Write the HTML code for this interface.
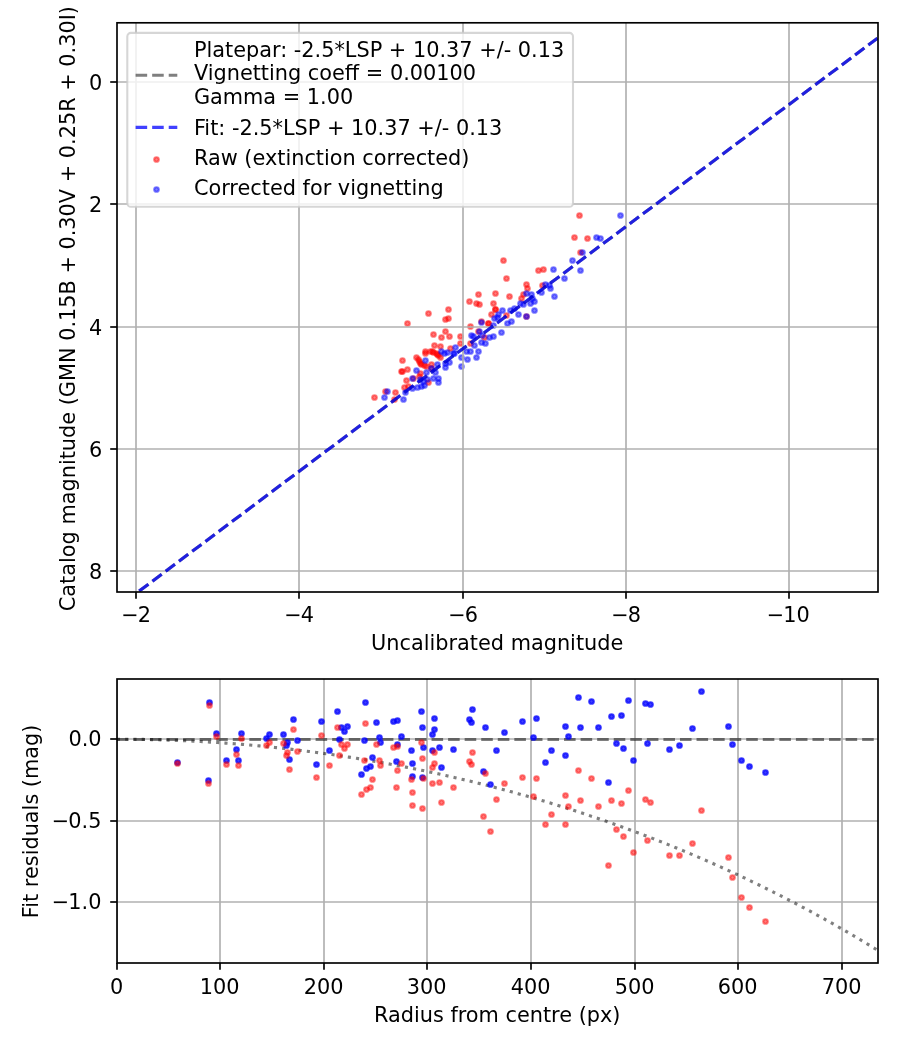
<!DOCTYPE html>
<html lang="en"><head><meta charset="utf-8"><title>Photometry fit</title>
<style>html,body{margin:0;padding:0;background:#fff}body{width:900px;height:1050px;overflow:hidden}</style></head>
<body>
<svg width="900" height="1050" viewBox="0 0 900 1050" style="display:block;font-family:'DejaVu Sans','Liberation Sans',sans-serif;font-size:20.8333px">
<rect width="900" height="1050" fill="#fff"/>
<defs><clipPath id="c1"><rect x="117" y="22.8" width="761" height="569.2"/></clipPath><clipPath id="c2"><rect x="117" y="679" width="761" height="284"/></clipPath></defs>
<g clip-path="url(#c1)">
<g fill="#f00" stroke="#f00" fill-opacity=".5" stroke-opacity=".5" stroke-width="2.1">
<circle cx="374.5" cy="397.5" r="2.3"/>
<circle cx="385.5" cy="391.5" r="2.3"/>
<circle cx="395.5" cy="392.5" r="2.3"/>
<circle cx="394.5" cy="399.5" r="2.3"/>
<circle cx="404.5" cy="387.5" r="2.3"/>
<circle cx="408.5" cy="386.5" r="2.3"/>
<circle cx="402.5" cy="360.5" r="2.3"/>
<circle cx="401.5" cy="371.5" r="2.3"/>
<circle cx="407.5" cy="369.5" r="2.3"/>
<circle cx="406.5" cy="380.5" r="2.3"/>
<circle cx="416.5" cy="357.5" r="2.3"/>
<circle cx="419.5" cy="361.5" r="2.3"/>
<circle cx="421.5" cy="364.5" r="2.3"/>
<circle cx="424.5" cy="365.5" r="2.3"/>
<circle cx="425.5" cy="351.5" r="2.3"/>
<circle cx="425.5" cy="353.5" r="2.3"/>
<circle cx="430.5" cy="351.5" r="2.3"/>
<circle cx="433.5" cy="352.5" r="2.3"/>
<circle cx="436.5" cy="353.5" r="2.3"/>
<circle cx="438.5" cy="355.5" r="2.3"/>
<circle cx="440.5" cy="357.5" r="2.3"/>
<circle cx="434.5" cy="345.5" r="2.3"/>
<circle cx="440.5" cy="346.5" r="2.3"/>
<circle cx="450.5" cy="348.5" r="2.3"/>
<circle cx="431.5" cy="364.5" r="2.3"/>
<circle cx="420.5" cy="373.5" r="2.3"/>
<circle cx="419.5" cy="376.5" r="2.3"/>
<circle cx="428.5" cy="382.5" r="2.3"/>
<circle cx="413.5" cy="378.5" r="2.3"/>
<circle cx="431.5" cy="368.5" r="2.3"/>
<circle cx="426.5" cy="366.5" r="2.3"/>
<circle cx="407.5" cy="323.5" r="2.3"/>
<circle cx="428.5" cy="313.5" r="2.3"/>
<circle cx="433.5" cy="334.5" r="2.3"/>
<circle cx="448.5" cy="309.5" r="2.3"/>
<circle cx="445.5" cy="319.5" r="2.3"/>
<circle cx="448.5" cy="318.5" r="2.3"/>
<circle cx="445.5" cy="331.5" r="2.3"/>
<circle cx="441.5" cy="337.5" r="2.3"/>
<circle cx="449.5" cy="336.5" r="2.3"/>
<circle cx="460.5" cy="336.5" r="2.3"/>
<circle cx="460.5" cy="343.5" r="2.3"/>
<circle cx="469.5" cy="301.5" r="2.3"/>
<circle cx="478.5" cy="294.5" r="2.3"/>
<circle cx="476.5" cy="303.5" r="2.3"/>
<circle cx="479.5" cy="304.5" r="2.3"/>
<circle cx="470.5" cy="326.5" r="2.3"/>
<circle cx="481.5" cy="321.5" r="2.3"/>
<circle cx="488.5" cy="323.5" r="2.3"/>
<circle cx="491.5" cy="314.5" r="2.3"/>
<circle cx="495.5" cy="309.5" r="2.3"/>
<circle cx="493.5" cy="303.5" r="2.3"/>
<circle cx="495.5" cy="293.5" r="2.3"/>
<circle cx="506.5" cy="278.5" r="2.3"/>
<circle cx="509.5" cy="296.5" r="2.3"/>
<circle cx="506.5" cy="315.5" r="2.3"/>
<circle cx="526.5" cy="284.5" r="2.3"/>
<circle cx="527.5" cy="288.5" r="2.3"/>
<circle cx="523.5" cy="294.5" r="2.3"/>
<circle cx="521.5" cy="298.5" r="2.3"/>
<circle cx="526.5" cy="316.5" r="2.3"/>
<circle cx="470.5" cy="343.5" r="2.3"/>
<circle cx="484.5" cy="337.5" r="2.3"/>
<circle cx="478.5" cy="331.5" r="2.3"/>
<circle cx="538.5" cy="270.5" r="2.3"/>
<circle cx="543.5" cy="269.5" r="2.3"/>
<circle cx="542.5" cy="285.5" r="2.3"/>
<circle cx="580.5" cy="252.5" r="2.3"/>
<circle cx="579.5" cy="215.5" r="2.3"/>
<circle cx="574.5" cy="237.5" r="2.3"/>
<circle cx="587.5" cy="238.5" r="2.3"/>
<circle cx="503.5" cy="260.5" r="2.3"/>
<circle cx="402.5" cy="371.5" r="2.3"/>
<circle cx="418.5" cy="359.5" r="2.3"/>
<circle cx="420.5" cy="363.5" r="2.3"/>
<circle cx="432.5" cy="351.5" r="2.3"/>
<circle cx="437.5" cy="354.5" r="2.3"/>
<circle cx="495.5" cy="309.5" r="2.3"/>
<circle cx="488.5" cy="323.5" r="2.3"/>
</g>
<g fill="#00f" stroke="#00f" fill-opacity=".5" stroke-opacity=".5" stroke-width="2.1">
<circle cx="384.5" cy="397.5" r="2.3"/>
<circle cx="387.5" cy="391.5" r="2.3"/>
<circle cx="403.5" cy="399.5" r="2.3"/>
<circle cx="405.5" cy="392.5" r="2.3"/>
<circle cx="417.5" cy="387.5" r="2.3"/>
<circle cx="421.5" cy="386.5" r="2.3"/>
<circle cx="424.5" cy="385.5" r="2.3"/>
<circle cx="412.5" cy="388.5" r="2.3"/>
<circle cx="425.5" cy="360.5" r="2.3"/>
<circle cx="416.5" cy="370.5" r="2.3"/>
<circle cx="412.5" cy="378.5" r="2.3"/>
<circle cx="426.5" cy="372.5" r="2.3"/>
<circle cx="431.5" cy="368.5" r="2.3"/>
<circle cx="437.5" cy="364.5" r="2.3"/>
<circle cx="441.5" cy="351.5" r="2.3"/>
<circle cx="444.5" cy="353.5" r="2.3"/>
<circle cx="447.5" cy="352.5" r="2.3"/>
<circle cx="445.5" cy="363.5" r="2.3"/>
<circle cx="449.5" cy="362.5" r="2.3"/>
<circle cx="445.5" cy="367.5" r="2.3"/>
<circle cx="435.5" cy="372.5" r="2.3"/>
<circle cx="433.5" cy="378.5" r="2.3"/>
<circle cx="438.5" cy="378.5" r="2.3"/>
<circle cx="438.5" cy="382.5" r="2.3"/>
<circle cx="423.5" cy="381.5" r="2.3"/>
<circle cx="420.5" cy="379.5" r="2.3"/>
<circle cx="454.5" cy="353.5" r="2.3"/>
<circle cx="427.5" cy="379.5" r="2.3"/>
<circle cx="455.5" cy="347.5" r="2.3"/>
<circle cx="471.5" cy="335.5" r="2.3"/>
<circle cx="474.5" cy="345.5" r="2.3"/>
<circle cx="481.5" cy="342.5" r="2.3"/>
<circle cx="485.5" cy="343.5" r="2.3"/>
<circle cx="479.5" cy="331.5" r="2.3"/>
<circle cx="482.5" cy="335.5" r="2.3"/>
<circle cx="481.5" cy="322.5" r="2.3"/>
<circle cx="489.5" cy="337.5" r="2.3"/>
<circle cx="493.5" cy="336.5" r="2.3"/>
<circle cx="501.5" cy="332.5" r="2.3"/>
<circle cx="493.5" cy="325.5" r="2.3"/>
<circle cx="494.5" cy="318.5" r="2.3"/>
<circle cx="498.5" cy="314.5" r="2.3"/>
<circle cx="497.5" cy="317.5" r="2.3"/>
<circle cx="502.5" cy="310.5" r="2.3"/>
<circle cx="507.5" cy="323.5" r="2.3"/>
<circle cx="511.5" cy="321.5" r="2.3"/>
<circle cx="510.5" cy="310.5" r="2.3"/>
<circle cx="514.5" cy="308.5" r="2.3"/>
<circle cx="518.5" cy="314.5" r="2.3"/>
<circle cx="526.5" cy="316.5" r="2.3"/>
<circle cx="534.5" cy="310.5" r="2.3"/>
<circle cx="520.5" cy="303.5" r="2.3"/>
<circle cx="523.5" cy="304.5" r="2.3"/>
<circle cx="526.5" cy="293.5" r="2.3"/>
<circle cx="531.5" cy="294.5" r="2.3"/>
<circle cx="530.5" cy="303.5" r="2.3"/>
<circle cx="534.5" cy="301.5" r="2.3"/>
<circle cx="532.5" cy="298.5" r="2.3"/>
<circle cx="473.5" cy="336.5" r="2.3"/>
<circle cx="453.5" cy="353.5" r="2.3"/>
<circle cx="461.5" cy="357.5" r="2.3"/>
<circle cx="461.5" cy="366.5" r="2.3"/>
<circle cx="467.5" cy="359.5" r="2.3"/>
<circle cx="466.5" cy="351.5" r="2.3"/>
<circle cx="470.5" cy="351.5" r="2.3"/>
<circle cx="476.5" cy="357.5" r="2.3"/>
<circle cx="478.5" cy="351.5" r="2.3"/>
<circle cx="553.5" cy="269.5" r="2.3"/>
<circle cx="572.5" cy="260.5" r="2.3"/>
<circle cx="582.5" cy="252.5" r="2.3"/>
<circle cx="580.5" cy="270.5" r="2.3"/>
<circle cx="564.5" cy="278.5" r="2.3"/>
<circle cx="545.5" cy="284.5" r="2.3"/>
<circle cx="549.5" cy="285.5" r="2.3"/>
<circle cx="550.5" cy="288.5" r="2.3"/>
<circle cx="541.5" cy="292.5" r="2.3"/>
<circle cx="554.5" cy="296.5" r="2.3"/>
<circle cx="620.5" cy="215.5" r="2.3"/>
<circle cx="596.5" cy="237.5" r="2.3"/>
<circle cx="600.5" cy="238.5" r="2.3"/>
</g>
<g stroke="#b0b0b0" stroke-width="1.6667">
<line x1="136" y1="22.8" x2="136" y2="592"/>
<line x1="299" y1="22.8" x2="299" y2="592"/>
<line x1="463" y1="22.8" x2="463" y2="592"/>
<line x1="626" y1="22.8" x2="626" y2="592"/>
<line x1="789" y1="22.8" x2="789" y2="592"/>
<line x1="117" y1="82" x2="878" y2="82"/>
<line x1="117" y1="204" x2="878" y2="204"/>
<line x1="117" y1="327" x2="878" y2="327"/>
<line x1="117" y1="449" x2="878" y2="449"/>
<line x1="117" y1="571" x2="878" y2="571"/>
</g>
<g fill="none" stroke-width="3.125" stroke-dasharray="11.5625 5" stroke-dashoffset="5.23">
<line x1="116.85" y1="607.79" x2="877.5" y2="38.22" stroke="#000" stroke-opacity=".5"/>
<line x1="116.85" y1="607.79" x2="877.5" y2="38.22" stroke="#00f" stroke-opacity=".75"/>
</g>
</g>
<g stroke="#000" stroke-width="1.6667" fill="none">
<rect x="117" y="22.8" width="761" height="569.2"/>
<line x1="136" y1="592" x2="136" y2="598.8"/>
<line x1="299" y1="592" x2="299" y2="598.8"/>
<line x1="463" y1="592" x2="463" y2="598.8"/>
<line x1="626" y1="592" x2="626" y2="598.8"/>
<line x1="789" y1="592" x2="789" y2="598.8"/>
<line x1="117" y1="82" x2="110.2" y2="82"/>
<line x1="117" y1="204" x2="110.2" y2="204"/>
<line x1="117" y1="327" x2="110.2" y2="327"/>
<line x1="117" y1="449" x2="110.2" y2="449"/>
<line x1="117" y1="571" x2="110.2" y2="571"/>
</g>
<g fill="#000">
<text x="136.15" y="622.2" text-anchor="middle">−<tspan dx="-0.9">2</tspan></text>
<text x="299.15" y="622.2" text-anchor="middle">−<tspan dx="-0.9">4</tspan></text>
<text x="463.15" y="622.2" text-anchor="middle">−<tspan dx="-0.9">6</tspan></text>
<text x="626.15" y="622.2" text-anchor="middle">−<tspan dx="-0.9">8</tspan></text>
<text x="788.35" y="622.2" text-anchor="middle">−<tspan dx="-0.9">10</tspan></text>
<text x="102.3" y="89.6" text-anchor="end">0</text>
<text x="102.3" y="211.6" text-anchor="end">2</text>
<text x="102.3" y="334.6" text-anchor="end">4</text>
<text x="102.3" y="456.6" text-anchor="end">6</text>
<text x="102.3" y="578.6" text-anchor="end">8</text>
<text x="497.2" y="649.7" text-anchor="middle">Uncalibrated magnitude</text>
<text transform="translate(75.45 308.6) rotate(-90)" text-anchor="middle">Catalog magnitude (GMN 0.15B + 0.30V + 0.25R + 0.30I)</text>
</g>
<rect x="127.3" y="32.9" width="445.7" height="173.9" rx="3.6" fill="#fff" fill-opacity=".8" stroke="#ccc" stroke-opacity=".8" stroke-width="2.08"/>
<g fill="none" stroke-width="3.125" stroke-dasharray="11.5625 5">
<line x1="135.6" y1="75.3" x2="177.3" y2="75.3" stroke="#000" stroke-opacity=".5"/>
<line x1="135.6" y1="127.4" x2="177.3" y2="127.4" stroke="#00f" stroke-opacity=".75"/>
</g>
<circle cx="156.5" cy="159.5" r="2.3" fill="#f00" stroke="#f00" fill-opacity=".5" stroke-opacity=".5" stroke-width="2.1"/>
<circle cx="156.5" cy="189.5" r="2.3" fill="#00f" stroke="#00f" fill-opacity=".5" stroke-opacity=".5" stroke-width="2.1"/>
<g fill="#000">
<text x="193.9" y="56.9">Platepar: -2.5*LSP + 10.37 +/- 0.13</text>
<text x="193.9" y="80.3">Vignetting coeff = 0.00100</text>
<text x="193.9" y="103.6">Gamma = 1.00</text>
<text x="193.9" y="134.5">Fit: -2.5*LSP + 10.37 +/- 0.13</text>
<text x="193.9" y="164.8">Raw (extinction corrected)</text>
<text x="193.9" y="195.2">Corrected for vignetting</text>
</g>
<g clip-path="url(#c2)">
<g stroke="#b0b0b0" stroke-width="1.6667">
<line x1="117" y1="679" x2="117" y2="963"/>
<line x1="220" y1="679" x2="220" y2="963"/>
<line x1="324" y1="679" x2="324" y2="963"/>
<line x1="427" y1="679" x2="427" y2="963"/>
<line x1="531" y1="679" x2="531" y2="963"/>
<line x1="635" y1="679" x2="635" y2="963"/>
<line x1="738" y1="679" x2="738" y2="963"/>
<line x1="842" y1="679" x2="842" y2="963"/>
<line x1="117" y1="739" x2="878" y2="739"/>
<line x1="117" y1="821" x2="878" y2="821"/>
<line x1="117" y1="902" x2="878" y2="902"/>
</g>
<line x1="116.85" y1="739.5" x2="877.5" y2="739.5" stroke="#000" stroke-opacity=".5" stroke-width="3.125" stroke-dasharray="11.5625 5"/>
<polyline points="116.85,739.20 118.75,739.20 120.65,739.20 122.55,739.21 124.46,739.22 126.36,739.23 128.26,739.24 130.16,739.26 132.06,739.28 133.96,739.30 135.87,739.32 137.77,739.34 139.67,739.37 141.57,739.40 143.47,739.43 145.37,739.47 147.28,739.51 149.18,739.54 151.08,739.59 152.98,739.63 154.88,739.68 156.78,739.73 158.69,739.78 160.59,739.83 162.49,739.89 164.39,739.95 166.29,740.01 168.19,740.07 170.09,740.14 172.00,740.20 173.90,740.27 175.80,740.35 177.70,740.42 179.60,740.50 181.50,740.58 183.41,740.66 185.31,740.75 187.21,740.83 189.11,740.92 191.01,741.02 192.91,741.11 194.82,741.21 196.72,741.31 198.62,741.41 200.52,741.51 202.42,741.62 204.32,741.73 206.23,741.84 208.13,741.95 210.03,742.07 211.93,742.19 213.83,742.31 215.73,742.43 217.63,742.56 219.54,742.68 221.44,742.81 223.34,742.95 225.24,743.08 227.14,743.22 229.04,743.36 230.95,743.50 232.85,743.65 234.75,743.80 236.65,743.94 238.55,744.10 240.45,744.25 242.36,744.41 244.26,744.57 246.16,744.73 248.06,744.89 249.96,745.06 251.86,745.23 253.77,745.40 255.67,745.58 257.57,745.75 259.47,745.93 261.37,746.11 263.27,746.30 265.17,746.48 267.08,746.67 268.98,746.86 270.88,747.05 272.78,747.25 274.68,747.45 276.58,747.65 278.49,747.85 280.39,748.06 282.29,748.27 284.19,748.48 286.09,748.69 287.99,748.91 289.90,749.12 291.80,749.34 293.70,749.57 295.60,749.79 297.50,750.02 299.40,750.25 301.31,750.48 303.21,750.72 305.11,750.96 307.01,751.20 308.91,751.44 310.81,751.68 312.71,751.93 314.62,752.18 316.52,752.43 318.42,752.69 320.32,752.95 322.22,753.20 324.12,753.47 326.03,753.73 327.93,754.00 329.83,754.27 331.73,754.54 333.63,754.82 335.53,755.09 337.44,755.37 339.34,755.66 341.24,755.94 343.14,756.23 345.04,756.52 346.94,756.81 348.84,757.10 350.75,757.40 352.65,757.70 354.55,758.00 356.45,758.31 358.35,758.62 360.25,758.93 362.16,759.24 364.06,759.55 365.96,759.87 367.86,760.19 369.76,760.51 371.66,760.84 373.57,761.17 375.47,761.50 377.37,761.83 379.27,762.16 381.17,762.50 383.07,762.84 384.98,763.18 386.88,763.53 388.78,763.88 390.68,764.23 392.58,764.58 394.48,764.94 396.38,765.29 398.29,765.66 400.19,766.02 402.09,766.38 403.99,766.75 405.89,767.12 407.79,767.50 409.70,767.87 411.60,768.25 413.50,768.63 415.40,769.02 417.30,769.40 419.20,769.79 421.11,770.19 423.01,770.58 424.91,770.98 426.81,771.38 428.71,771.78 430.61,772.18 432.52,772.59 434.42,773.00 436.32,773.41 438.22,773.83 440.12,774.25 442.02,774.67 443.92,775.09 445.83,775.52 447.73,775.94 449.63,776.38 451.53,776.81 453.43,777.25 455.33,777.69 457.24,778.13 459.14,778.57 461.04,779.02 462.94,779.47 464.84,779.92 466.74,780.38 468.65,780.83 470.55,781.29 472.45,781.76 474.35,782.22 476.25,782.69 478.15,783.16 480.06,783.64 481.96,784.11 483.86,784.59 485.76,785.07 487.66,785.56 489.56,786.05 491.46,786.54 493.37,787.03 495.27,787.53 497.17,788.02 499.07,788.53 500.97,789.03 502.87,789.54 504.78,790.05 506.68,790.56 508.58,791.07 510.48,791.59 512.38,792.11 514.28,792.63 516.19,793.16 518.09,793.69 519.99,794.22 521.89,794.75 523.79,795.29 525.69,795.83 527.60,796.37 529.50,796.92 531.40,797.47 533.30,798.02 535.20,798.57 537.10,799.13 539.00,799.69 540.91,800.25 542.81,800.82 544.71,801.39 546.61,801.96 548.51,802.53 550.41,803.11 552.32,803.69 554.22,804.27 556.12,804.85 558.02,805.44 559.92,806.03 561.82,806.63 563.73,807.22 565.63,807.82 567.53,808.43 569.43,809.03 571.33,809.64 573.23,810.25 575.14,810.86 577.04,811.48 578.94,812.10 580.84,812.72 582.74,813.35 584.64,813.98 586.54,814.61 588.45,815.25 590.35,815.88 592.25,816.52 594.15,817.17 596.05,817.81 597.95,818.46 599.86,819.12 601.76,819.77 603.66,820.43 605.56,821.09 607.46,821.76 609.36,822.42 611.27,823.09 613.17,823.77 615.07,824.45 616.97,825.12 618.87,825.81 620.77,826.49 622.68,827.18 624.58,827.87 626.48,828.57 628.38,829.27 630.28,829.97 632.18,830.67 634.08,831.38 635.99,832.09 637.89,832.80 639.79,833.52 641.69,834.24 643.59,834.96 645.49,835.69 647.40,836.42 649.30,837.15 651.20,837.88 653.10,838.62 655.00,839.36 656.90,840.11 658.81,840.86 660.71,841.61 662.61,842.36 664.51,843.12 666.41,843.88 668.31,844.65 670.22,845.41 672.12,846.18 674.02,846.96 675.92,847.73 677.82,848.51 679.72,849.30 681.62,850.08 683.53,850.87 685.43,851.67 687.33,852.46 689.23,853.26 691.13,854.07 693.03,854.87 694.94,855.68 696.84,856.49 698.74,857.31 700.64,858.13 702.54,858.95 704.44,859.78 706.35,860.61 708.25,861.44 710.15,862.28 712.05,863.12 713.95,863.96 715.85,864.81 717.76,865.66 719.66,866.51 721.56,867.37 723.46,868.23 725.36,869.09 727.26,869.96 729.16,870.83 731.07,871.70 732.97,872.58 734.87,873.46 736.77,874.34 738.67,875.23 740.57,876.12 742.48,877.02 744.38,877.92 746.28,878.82 748.18,879.72 750.08,880.63 751.98,881.55 753.89,882.46 755.79,883.38 757.69,884.31 759.59,885.23 761.49,886.16 763.39,887.10 765.30,888.03 767.20,888.98 769.10,889.92 771.00,890.87 772.90,891.82 774.80,892.78 776.70,893.74 778.61,894.70 780.51,895.67 782.41,896.64 784.31,897.61 786.21,898.59 788.11,899.57 790.02,900.56 791.92,901.55 793.82,902.54 795.72,903.54 797.62,904.54 799.52,905.54 801.43,906.55 803.33,907.57 805.23,908.58 807.13,909.60 809.03,910.63 810.93,911.65 812.83,912.68 814.74,913.72 816.64,914.76 818.54,915.80 820.44,916.85 822.34,917.90 824.24,918.96 826.15,920.02 828.05,921.08 829.95,922.15 831.85,923.22 833.75,924.29 835.65,925.37 837.56,926.45 839.46,927.54 841.36,928.63 843.26,929.73 845.16,930.83 847.06,931.93 848.97,933.04 850.87,934.15 852.77,935.27 854.67,936.39 856.57,937.51 858.47,938.64 860.37,939.77 862.28,940.91 864.18,942.05 866.08,943.19 867.98,944.34 869.88,945.50 871.78,946.66 873.69,947.82 875.59,948.98 877.49,950.16" fill="none" stroke="#000" stroke-opacity=".5" stroke-width="3.125" stroke-dasharray="3.125 5.15625"/>
<g fill="#00f" stroke="#00f" fill-opacity=".75" stroke-opacity=".75" stroke-width="2.1">
<circle cx="209.5" cy="702.5" r="2.3"/>
<circle cx="216.5" cy="733.5" r="2.3"/>
<circle cx="177.5" cy="762.5" r="2.3"/>
<circle cx="208.5" cy="780.5" r="2.3"/>
<circle cx="226.5" cy="760.5" r="2.3"/>
<circle cx="236.5" cy="749.5" r="2.3"/>
<circle cx="238.5" cy="760.5" r="2.3"/>
<circle cx="241.5" cy="733.5" r="2.3"/>
<circle cx="266.5" cy="738.5" r="2.3"/>
<circle cx="269.5" cy="734.5" r="2.3"/>
<circle cx="283.5" cy="734.5" r="2.3"/>
<circle cx="287.5" cy="742.5" r="2.3"/>
<circle cx="286.5" cy="745.5" r="2.3"/>
<circle cx="289.5" cy="759.5" r="2.3"/>
<circle cx="293.5" cy="719.5" r="2.3"/>
<circle cx="297.5" cy="740.5" r="2.3"/>
<circle cx="316.5" cy="764.5" r="2.3"/>
<circle cx="321.5" cy="721.5" r="2.3"/>
<circle cx="329.5" cy="750.5" r="2.3"/>
<circle cx="337.5" cy="711.5" r="2.3"/>
<circle cx="339.5" cy="739.5" r="2.3"/>
<circle cx="341.5" cy="727.5" r="2.3"/>
<circle cx="344.5" cy="731.5" r="2.3"/>
<circle cx="347.5" cy="726.5" r="2.3"/>
<circle cx="361.5" cy="774.5" r="2.3"/>
<circle cx="364.5" cy="740.5" r="2.3"/>
<circle cx="365.5" cy="702.5" r="2.3"/>
<circle cx="366.5" cy="768.5" r="2.3"/>
<circle cx="370.5" cy="766.5" r="2.3"/>
<circle cx="372.5" cy="757.5" r="2.3"/>
<circle cx="376.5" cy="722.5" r="2.3"/>
<circle cx="379.5" cy="737.5" r="2.3"/>
<circle cx="380.5" cy="742.5" r="2.3"/>
<circle cx="393.5" cy="721.5" r="2.3"/>
<circle cx="397.5" cy="720.5" r="2.3"/>
<circle cx="396.5" cy="761.5" r="2.3"/>
<circle cx="397.5" cy="744.5" r="2.3"/>
<circle cx="401.5" cy="736.5" r="2.3"/>
<circle cx="411.5" cy="750.5" r="2.3"/>
<circle cx="412.5" cy="763.5" r="2.3"/>
<circle cx="412.5" cy="776.5" r="2.3"/>
<circle cx="421.5" cy="711.5" r="2.3"/>
<circle cx="422.5" cy="727.5" r="2.3"/>
<circle cx="423.5" cy="747.5" r="2.3"/>
<circle cx="422.5" cy="777.5" r="2.3"/>
<circle cx="432.5" cy="734.5" r="2.3"/>
<circle cx="434.5" cy="729.5" r="2.3"/>
<circle cx="434.5" cy="718.5" r="2.3"/>
<circle cx="432.5" cy="750.5" r="2.3"/>
<circle cx="439.5" cy="747.5" r="2.3"/>
<circle cx="441.5" cy="767.5" r="2.3"/>
<circle cx="453.5" cy="749.5" r="2.3"/>
<circle cx="469.5" cy="719.5" r="2.3"/>
<circle cx="471.5" cy="722.5" r="2.3"/>
<circle cx="472.5" cy="709.5" r="2.3"/>
<circle cx="483.5" cy="771.5" r="2.3"/>
<circle cx="485.5" cy="727.5" r="2.3"/>
<circle cx="490.5" cy="784.5" r="2.3"/>
<circle cx="496.5" cy="750.5" r="2.3"/>
<circle cx="504.5" cy="732.5" r="2.3"/>
<circle cx="522.5" cy="721.5" r="2.3"/>
<circle cx="533.5" cy="737.5" r="2.3"/>
<circle cx="536.5" cy="718.5" r="2.3"/>
<circle cx="545.5" cy="762.5" r="2.3"/>
<circle cx="551.5" cy="750.5" r="2.3"/>
<circle cx="565.5" cy="726.5" r="2.3"/>
<circle cx="565.5" cy="755.5" r="2.3"/>
<circle cx="568.5" cy="736.5" r="2.3"/>
<circle cx="578.5" cy="697.5" r="2.3"/>
<circle cx="580.5" cy="727.5" r="2.3"/>
<circle cx="591.5" cy="701.5" r="2.3"/>
<circle cx="598.5" cy="727.5" r="2.3"/>
<circle cx="608.5" cy="782.5" r="2.3"/>
<circle cx="611.5" cy="716.5" r="2.3"/>
<circle cx="616.5" cy="743.5" r="2.3"/>
<circle cx="621.5" cy="715.5" r="2.3"/>
<circle cx="623.5" cy="748.5" r="2.3"/>
<circle cx="628.5" cy="700.5" r="2.3"/>
<circle cx="633.5" cy="760.5" r="2.3"/>
<circle cx="645.5" cy="703.5" r="2.3"/>
<circle cx="647.5" cy="743.5" r="2.3"/>
<circle cx="650.5" cy="704.5" r="2.3"/>
<circle cx="669.5" cy="749.5" r="2.3"/>
<circle cx="679.5" cy="745.5" r="2.3"/>
<circle cx="692.5" cy="728.5" r="2.3"/>
<circle cx="701.5" cy="691.5" r="2.3"/>
<circle cx="728.5" cy="726.5" r="2.3"/>
<circle cx="732.5" cy="744.5" r="2.3"/>
<circle cx="741.5" cy="760.5" r="2.3"/>
<circle cx="749.5" cy="766.5" r="2.3"/>
<circle cx="765.5" cy="772.5" r="2.3"/>
</g>
<g fill="#f00" stroke="#f00" fill-opacity=".5" stroke-opacity=".5" stroke-width="2.1">
<circle cx="209.5" cy="705.5" r="2.3"/>
<circle cx="216.5" cy="736.5" r="2.3"/>
<circle cx="177.5" cy="763.5" r="2.3"/>
<circle cx="208.5" cy="783.5" r="2.3"/>
<circle cx="226.5" cy="764.5" r="2.3"/>
<circle cx="236.5" cy="754.5" r="2.3"/>
<circle cx="238.5" cy="765.5" r="2.3"/>
<circle cx="241.5" cy="738.5" r="2.3"/>
<circle cx="266.5" cy="745.5" r="2.3"/>
<circle cx="269.5" cy="742.5" r="2.3"/>
<circle cx="283.5" cy="743.5" r="2.3"/>
<circle cx="287.5" cy="752.5" r="2.3"/>
<circle cx="286.5" cy="755.5" r="2.3"/>
<circle cx="289.5" cy="769.5" r="2.3"/>
<circle cx="293.5" cy="729.5" r="2.3"/>
<circle cx="297.5" cy="751.5" r="2.3"/>
<circle cx="316.5" cy="777.5" r="2.3"/>
<circle cx="321.5" cy="735.5" r="2.3"/>
<circle cx="329.5" cy="765.5" r="2.3"/>
<circle cx="337.5" cy="727.5" r="2.3"/>
<circle cx="339.5" cy="755.5" r="2.3"/>
<circle cx="341.5" cy="744.5" r="2.3"/>
<circle cx="344.5" cy="748.5" r="2.3"/>
<circle cx="347.5" cy="744.5" r="2.3"/>
<circle cx="361.5" cy="794.5" r="2.3"/>
<circle cx="364.5" cy="760.5" r="2.3"/>
<circle cx="365.5" cy="723.5" r="2.3"/>
<circle cx="366.5" cy="789.5" r="2.3"/>
<circle cx="370.5" cy="787.5" r="2.3"/>
<circle cx="372.5" cy="779.5" r="2.3"/>
<circle cx="376.5" cy="744.5" r="2.3"/>
<circle cx="379.5" cy="760.5" r="2.3"/>
<circle cx="380.5" cy="765.5" r="2.3"/>
<circle cx="393.5" cy="747.5" r="2.3"/>
<circle cx="397.5" cy="746.5" r="2.3"/>
<circle cx="396.5" cy="787.5" r="2.3"/>
<circle cx="397.5" cy="770.5" r="2.3"/>
<circle cx="401.5" cy="763.5" r="2.3"/>
<circle cx="411.5" cy="779.5" r="2.3"/>
<circle cx="412.5" cy="792.5" r="2.3"/>
<circle cx="412.5" cy="805.5" r="2.3"/>
<circle cx="421.5" cy="742.5" r="2.3"/>
<circle cx="422.5" cy="758.5" r="2.3"/>
<circle cx="423.5" cy="778.5" r="2.3"/>
<circle cx="422.5" cy="808.5" r="2.3"/>
<circle cx="432.5" cy="767.5" r="2.3"/>
<circle cx="434.5" cy="763.5" r="2.3"/>
<circle cx="434.5" cy="752.5" r="2.3"/>
<circle cx="432.5" cy="783.5" r="2.3"/>
<circle cx="439.5" cy="782.5" r="2.3"/>
<circle cx="441.5" cy="802.5" r="2.3"/>
<circle cx="453.5" cy="787.5" r="2.3"/>
<circle cx="469.5" cy="761.5" r="2.3"/>
<circle cx="471.5" cy="764.5" r="2.3"/>
<circle cx="472.5" cy="752.5" r="2.3"/>
<circle cx="483.5" cy="816.5" r="2.3"/>
<circle cx="485.5" cy="773.5" r="2.3"/>
<circle cx="490.5" cy="831.5" r="2.3"/>
<circle cx="496.5" cy="799.5" r="2.3"/>
<circle cx="504.5" cy="783.5" r="2.3"/>
<circle cx="522.5" cy="777.5" r="2.3"/>
<circle cx="533.5" cy="796.5" r="2.3"/>
<circle cx="536.5" cy="778.5" r="2.3"/>
<circle cx="545.5" cy="824.5" r="2.3"/>
<circle cx="551.5" cy="814.5" r="2.3"/>
<circle cx="565.5" cy="795.5" r="2.3"/>
<circle cx="565.5" cy="824.5" r="2.3"/>
<circle cx="568.5" cy="806.5" r="2.3"/>
<circle cx="578.5" cy="770.5" r="2.3"/>
<circle cx="580.5" cy="800.5" r="2.3"/>
<circle cx="591.5" cy="778.5" r="2.3"/>
<circle cx="598.5" cy="806.5" r="2.3"/>
<circle cx="608.5" cy="865.5" r="2.3"/>
<circle cx="611.5" cy="800.5" r="2.3"/>
<circle cx="616.5" cy="829.5" r="2.3"/>
<circle cx="621.5" cy="803.5" r="2.3"/>
<circle cx="623.5" cy="836.5" r="2.3"/>
<circle cx="628.5" cy="790.5" r="2.3"/>
<circle cx="633.5" cy="852.5" r="2.3"/>
<circle cx="645.5" cy="799.5" r="2.3"/>
<circle cx="647.5" cy="840.5" r="2.3"/>
<circle cx="650.5" cy="802.5" r="2.3"/>
<circle cx="669.5" cy="855.5" r="2.3"/>
<circle cx="679.5" cy="855.5" r="2.3"/>
<circle cx="692.5" cy="843.5" r="2.3"/>
<circle cx="701.5" cy="810.5" r="2.3"/>
<circle cx="728.5" cy="857.5" r="2.3"/>
<circle cx="732.5" cy="877.5" r="2.3"/>
<circle cx="741.5" cy="897.5" r="2.3"/>
<circle cx="749.5" cy="907.5" r="2.3"/>
<circle cx="765.5" cy="921.5" r="2.3"/>
</g>
</g>
<g stroke="#000" stroke-width="1.6667" fill="none">
<rect x="117" y="679" width="761" height="284"/>
<line x1="117" y1="963" x2="117" y2="969.8"/>
<line x1="220" y1="963" x2="220" y2="969.8"/>
<line x1="324" y1="963" x2="324" y2="969.8"/>
<line x1="427" y1="963" x2="427" y2="969.8"/>
<line x1="531" y1="963" x2="531" y2="969.8"/>
<line x1="635" y1="963" x2="635" y2="969.8"/>
<line x1="738" y1="963" x2="738" y2="969.8"/>
<line x1="842" y1="963" x2="842" y2="969.8"/>
<line x1="117" y1="739" x2="110.2" y2="739"/>
<line x1="117" y1="821" x2="110.2" y2="821"/>
<line x1="117" y1="902" x2="110.2" y2="902"/>
</g>
<g fill="#000">
<text x="116.7" y="994.2" text-anchor="middle">0</text>
<text x="219.7" y="994.2" text-anchor="middle">100</text>
<text x="323.7" y="994.2" text-anchor="middle">200</text>
<text x="426.7" y="994.2" text-anchor="middle">300</text>
<text x="530.7" y="994.2" text-anchor="middle">400</text>
<text x="634.7" y="994.2" text-anchor="middle">500</text>
<text x="737.7" y="994.2" text-anchor="middle">600</text>
<text x="841.7" y="994.2" text-anchor="middle">700</text>
<text x="101.5" y="746.4" text-anchor="end">0.0</text>
<text x="101.5" y="828.4" text-anchor="end">−<tspan dx="-0.9">0.5</tspan></text>
<text x="101.5" y="909.4" text-anchor="end">−<tspan dx="-0.9">1.0</tspan></text>
<text x="497.2" y="1021.8" text-anchor="middle">Radius from centre (px)</text>
<text transform="translate(38.0 821.4) rotate(-90)" text-anchor="middle">Fit residuals (mag)</text>
</g>
</svg>
</body></html>
